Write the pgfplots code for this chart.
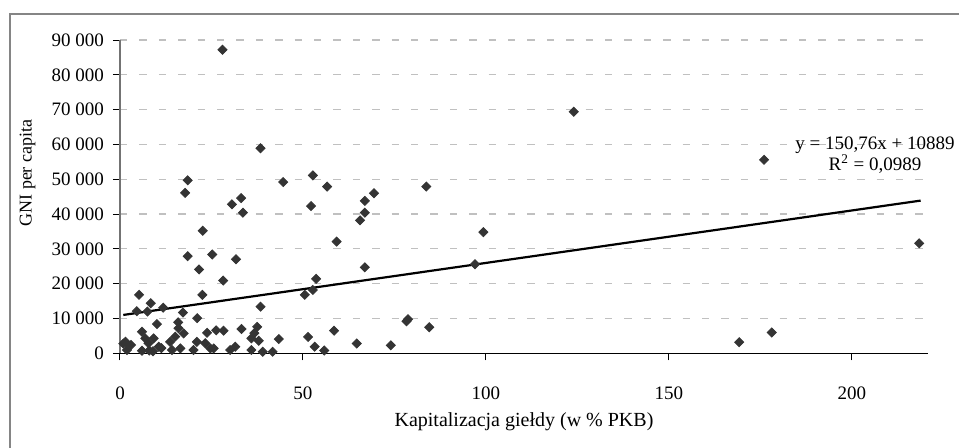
\documentclass[border=0pt]{standalone}
\usepackage{fontspec}
\setmainfont{Liberation Serif}
\usepackage{pgfplots}
\pgfplotsset{compat=1.18}
\definecolor{pts}{HTML}{343434}
\definecolor{gridc}{HTML}{C0C0C0}
\definecolor{framec}{HTML}{858585}

\begin{document}
\begin{tikzpicture}[x=1pt,y=1pt]
\useasboundingbox (0,-223.5) rectangle (479.5,0);
\draw[framec, line width=0.6pt] (5,-7) rectangle (540,-280);
\begin{axis}[
 at={(60pt,-176.65pt)}, anchor=south west,
 scale only axis, width=404pt, height=156.65pt,
 xmin=0, xmax=220.8, ymin=0, ymax=90000,
 axis x line*=bottom, axis y line*=left,
 x axis line style={-, black, line width=0.6pt},
 y axis line style={-, black!55, line width=0.6pt},
 xtick={0,50,100,150,200},
 ytick={0,10000,...,90000},
 yticklabels={0,10 000,20 000,30 000,40 000,50 000,60 000,70 000,80 000,90 000},
 xticklabel={\pgfmathprintnumber[assume math mode=true]{\tick}},
 scaled ticks=false,
 tick align=outside, major tick length=3.5pt,
 tick style={black, line width=0.5pt},
 ymajorgrids,
 major grid style={gridc, dash pattern=on 3.7pt off 6pt, line width=0.6pt},
 ticklabel style={font=\fontsize{9.5}{10}\selectfont},
 xticklabel style={yshift=-9.5pt},
 yticklabel style={xshift=-1pt},
 xlabel={Kapitalizacja giełdy (w \% PKB)},
 xlabel style={font=\fontsize{10}{12}\selectfont, at={(axis description cs:0.5,-0.2193)}, anchor=center},
 clip=false,
]
\addplot[only marks, mark=square*, mark size=1.6pt, mark options={rotate=45, fill=pts, draw=pts}] table {
x y
28.0 87200
38.4 58900
124.0 69400
176.0 55600
18.5 49700
17.8 46100
44.6 49200
52.7 51100
56.6 47900
30.6 42800
33.1 44600
33.6 40400
52.2 42300
66.9 43800
69.4 46000
65.6 38200
66.9 40400
83.7 47900
99.3 34800
22.6 35200
59.2 32100
18.5 27900
25.2 28400
31.7 27000
21.6 24100
66.9 24700
97.0 25600
218.4 31600
28.2 20900
53.6 21400
52.7 18200
50.5 16800
22.5 16800
5.2 16800
38.4 13400
8.4 14400
4.6 12100
7.5 12000
11.8 13100
17.2 11700
21.1 10100
10.1 8400
15.9 8900
78.7 9800
78.3 9200
84.5 7500
58.5 6500
33.2 7000
37.5 7600
36.7 5800
35.9 4300
37.9 3600
51.4 4700
43.4 4100
64.7 2800
74.0 2300
53.2 1900
55.8 800
39.0 450
41.7 450
169.2 3200
178.1 6000
16.0 7200
6.0 6200
17.4 5700
23.8 5900
26.3 6600
28.3 6500
6.9 4300
9.2 4300
15.1 4800
1.5 3300
7.8 2900
13.7 3300
21.0 3300
23.3 2900
1.9 950
6.0 750
10.6 1900
14.2 950
16.5 1400
20.1 950
24.7 1400
25.6 1400
30.1 950
31.5 1900
35.9 950
0.9 2800
8.0 800
9.0 600
11.3 1500
3.0 2400
};
\addplot[black, line width=1.1pt] coordinates {(0.9,11025) (218.8,43875)};
\end{axis}
\node[rotate=90, font=\fontsize{9}{10}\selectfont] at (13.8,-86.5) {GNI per capita};
\node[align=center, font=\fontsize{9.5}{10.5}\selectfont] at (437.5,-77.75) {y = 150,76x + 10889\\R\textsuperscript{2} = 0,0989};
\end{tikzpicture}
\end{document}
